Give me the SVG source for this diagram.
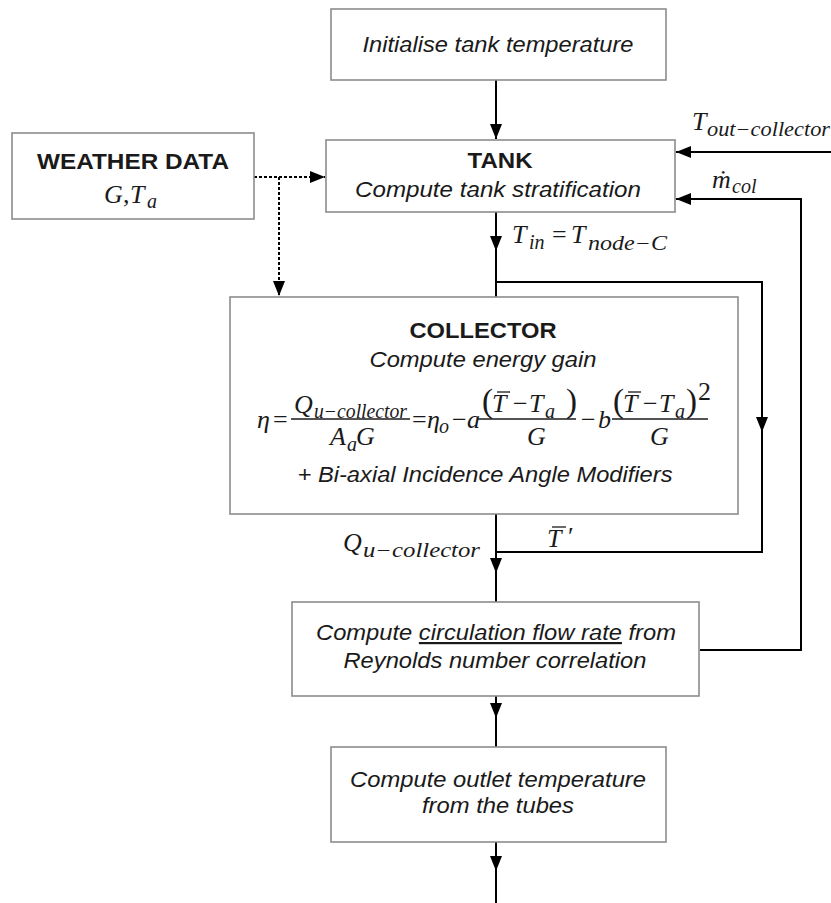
<svg xmlns="http://www.w3.org/2000/svg" width="831" height="903" viewBox="0 0 831 903">
<defs>
<marker id="ah" markerUnits="userSpaceOnUse" markerWidth="16" markerHeight="12" refX="15" refY="6" orient="auto"><path d="M0,0 L15,6 L0,12 z" fill="#000"/></marker>
<style>
.box{fill:#fff;stroke:#8c8c8c;stroke-width:1.6}
.t{font-family:"Liberation Sans",Arial,sans-serif;font-size:22px;font-style:italic;fill:#1a1a1a;text-anchor:middle}
.b{font-family:"Liberation Sans",Arial,sans-serif;font-size:22px;font-weight:bold;fill:#1a1a1a;text-anchor:middle}
.m{font-family:"Liberation Serif","DejaVu Serif",serif;font-size:26px;font-style:italic;fill:#1a1a1a}
.s{font-family:"Liberation Serif","DejaVu Serif",serif;font-size:20px;font-style:italic;fill:#1a1a1a}
.r{font-family:"Liberation Serif","DejaVu Serif",serif;font-size:26px;fill:#1a1a1a}
.p{font-family:"Liberation Serif","DejaVu Serif",serif;font-size:33px;fill:#1a1a1a}
.ln{fill:none;stroke:#000;stroke-width:2}
.dt{fill:none;stroke:#000;stroke-width:2;stroke-dasharray:3,2}
.bar{stroke:#1a1a1a;stroke-width:1.3}
</style>
</defs>
<rect width="831" height="903" fill="#fff"/>

<g id="connectors">
<path class="ln" d="M496,80 V139" marker-end="url(#ah)"/>
<path class="dt" d="M254,177 H325" marker-end="url(#ah)"/>
<path class="dt" d="M279,177 V296" marker-end="url(#ah)"/>
<path class="ln" d="M496,212 V251" marker-end="url(#ah)"/>
<path class="ln" d="M496,250 V298"/>
<path class="ln" d="M496,282 H762 V432" marker-end="url(#ah)"/>
<path class="ln" d="M762,430 V552 H496"/>
<path class="ln" d="M496,514 V573" marker-end="url(#ah)"/>
<path class="ln" d="M496,572 V602"/>
<path class="ln" d="M496,696 V718" marker-end="url(#ah)"/>
<path class="ln" d="M496,717 V747"/>
<path class="ln" d="M496,842 V871" marker-end="url(#ah)"/>
<path class="ln" d="M496,870 V903"/>
<path class="ln" d="M700,650 H801 V199 H676" marker-end="url(#ah)"/>
<path class="ln" d="M831,152 H676" marker-end="url(#ah)"/>
</g>

<g id="init">
<rect class="box" x="331" y="9" width="335" height="71"/>
<text class="t" x="498" y="52" textLength="271" lengthAdjust="spacingAndGlyphs">Initialise tank temperature</text>
</g>

<g id="weather">
<rect class="box" x="12" y="133" width="242" height="86"/>
<text class="b" x="133" y="169" textLength="192" lengthAdjust="spacingAndGlyphs">WEATHER DATA</text>
<text class="m" x="104" y="203" font-size="27">G</text>
<text class="r" x="123" y="203" font-size="27">,</text>
<text class="m" x="130" y="203" font-size="27">T</text>
<text class="s" x="147" y="208" font-size="21">a</text>
</g>

<g id="tank">
<rect class="box" x="326" y="140" width="349" height="72"/>
<text class="b" x="500" y="168" textLength="65" lengthAdjust="spacingAndGlyphs">TANK</text>
<text class="t" x="498" y="197" textLength="286" lengthAdjust="spacingAndGlyphs">Compute tank stratification</text>
</g>

<g id="collector">
<rect class="box" x="230" y="297" width="508" height="217"/>
<text class="b" x="483" y="338" textLength="147" lengthAdjust="spacingAndGlyphs">COLLECTOR</text>
<text class="t" x="483" y="367" textLength="227" lengthAdjust="spacingAndGlyphs">Compute energy gain</text>
<text class="m" x="257" y="428">η</text>
<text class="r" x="273" y="428">=</text>
<text class="m" x="294" y="413">Q</text>
<text class="s" x="314" y="418" textLength="93" lengthAdjust="spacingAndGlyphs">u−collector</text>
<line class="bar" x1="291" y1="419" x2="410" y2="419"/>
<text class="m" x="330" y="445">A</text>
<text class="s" x="347" y="451">a</text>
<text class="m" x="356" y="445">G</text>
<text class="r" x="412" y="428">=</text>
<text class="m" x="427" y="428">η</text>
<text class="s" x="439" y="433">o</text>
<text class="r" x="452" y="428">−</text>
<text class="m" x="467" y="428">a</text>
<line class="bar" x1="478" y1="419" x2="576" y2="419"/>
<text class="p" x="482" y="412">(</text>
<text class="m" x="492" y="412">T</text>
<line class="bar" x1="497" y1="392" x2="510" y2="392"/>
<text class="r" x="513" y="412">−</text>
<text class="m" x="529" y="412">T</text>
<text class="s" x="545" y="418">a</text>
<text class="p" x="566" y="412">)</text>
<text class="m" x="527" y="445">G</text>
<text class="r" x="581" y="428">−</text>
<text class="m" x="598" y="428">b</text>
<line class="bar" x1="612" y1="419" x2="708" y2="419"/>
<text class="p" x="613" y="412">(</text>
<text class="m" x="623" y="412">T</text>
<line class="bar" x1="628" y1="392" x2="641" y2="392"/>
<text class="r" x="643" y="412">−</text>
<text class="m" x="659" y="412">T</text>
<text class="s" x="675" y="418">a</text>
<text class="p" x="686" y="412">)</text>
<text class="r" x="698" y="400" font-size="20">2</text>
<text class="m" x="650" y="445">G</text>
<text class="t" x="485" y="482" textLength="375" lengthAdjust="spacingAndGlyphs">+ Bi-axial Incidence Angle Modifiers</text>
</g>

<g id="circulation">
<rect class="box" x="292" y="602" width="407" height="94"/>
<text class="t" x="496" y="640" textLength="360" lengthAdjust="spacingAndGlyphs">Compute <tspan text-decoration="underline">circulation flow rate</tspan> from</text>
<text class="t" x="495" y="668" textLength="303" lengthAdjust="spacingAndGlyphs">Reynolds number correlation</text>
</g>

<g id="outlet">
<rect class="box" x="331" y="747" width="335" height="95"/>
<text class="t" x="498" y="787" textLength="296" lengthAdjust="spacingAndGlyphs">Compute outlet temperature</text>
<text class="t" x="498" y="813" textLength="152" lengthAdjust="spacingAndGlyphs">from the tubes</text>
</g>

<g id="labels">
<text class="m" x="692" y="130">T</text>
<text class="s" x="707" y="136" textLength="123" lengthAdjust="spacingAndGlyphs">out−collector</text>
<text class="m" x="712" y="188">ṁ</text>
<text class="s" x="732" y="193">col</text>
<text class="m" x="512" y="243">T</text>
<text class="s" x="529" y="249">in</text>
<text class="r" x="552" y="243">=</text>
<text class="m" x="571" y="243">T</text>
<text class="s" x="588" y="250" textLength="79" lengthAdjust="spacingAndGlyphs">node−C</text>
<text class="m" x="343" y="551">Q</text>
<text class="s" x="363" y="557" textLength="117" lengthAdjust="spacingAndGlyphs">u−collector</text>
<text class="m" x="547" y="547">T</text>
<line class="bar" x1="552" y1="527" x2="566" y2="527"/>
<text class="r" x="568" y="545">′</text>
</g>
</svg>
